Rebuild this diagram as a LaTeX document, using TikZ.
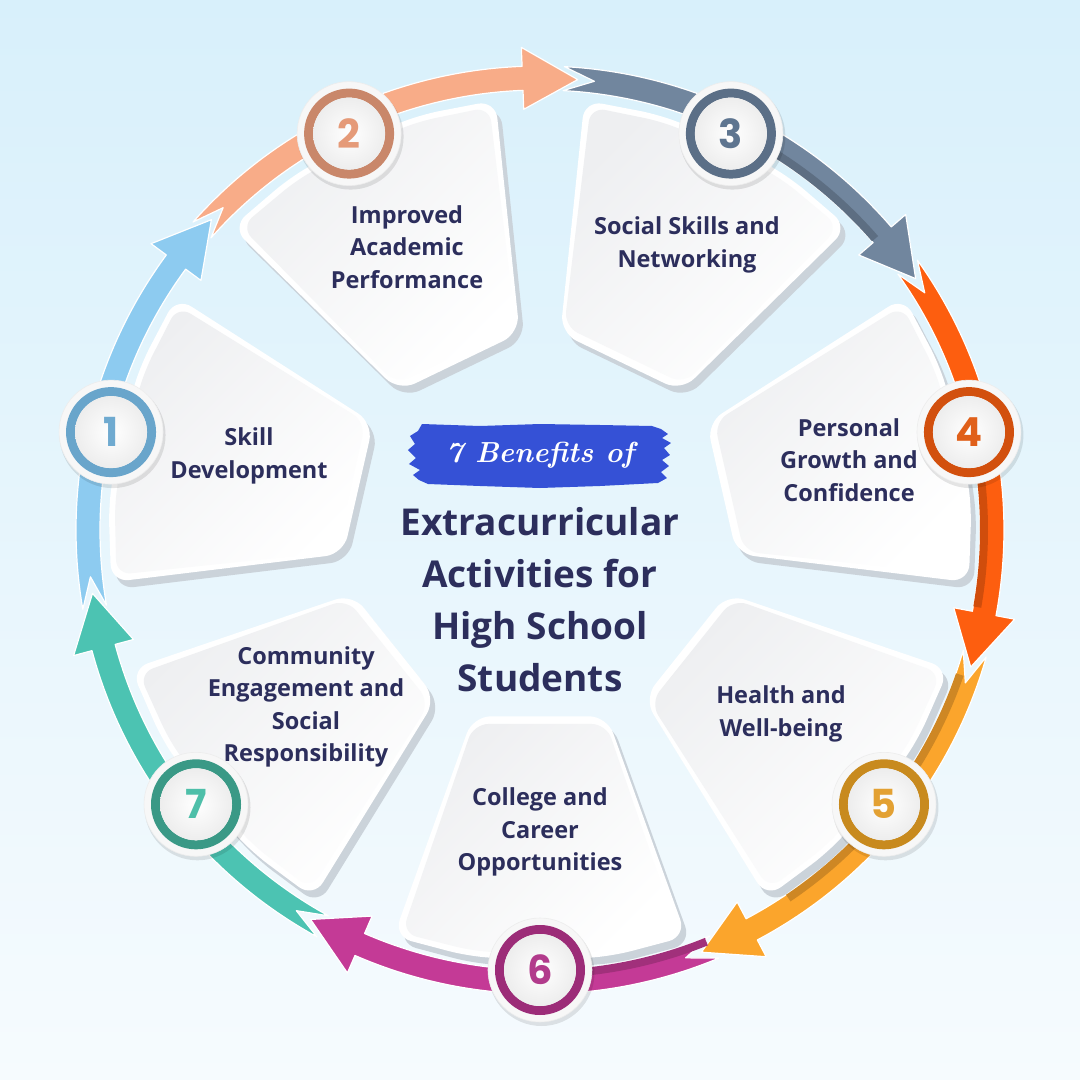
\documentclass[tikz,border=0pt]{standalone}
\usepackage{fontspec}
\newfontfamily\lbl{Open Sans}
\newfontfamily\digitfont{Poppins}
\definecolor{bgtop}{HTML}{D8F0FB}
\definecolor{bgbot}{HTML}{F6FBFE}
\definecolor{navy}{HTML}{2C2E5C}
\definecolor{brush}{HTML}{3551D6}
\definecolor{cardside}{HTML}{CBD3DA}
\definecolor{cardtop}{HTML}{EEEFF1}
\definecolor{arA}{HTML}{8DCBF0}
\definecolor{arB}{HTML}{F8AC88}
\definecolor{arC}{HTML}{71869E}
\definecolor{arD}{HTML}{FD5E0F}
\definecolor{arE}{HTML}{FBA52C}
\definecolor{arF}{HTML}{C43A96}
\definecolor{arG}{HTML}{4CC3B2}
\definecolor{rgA}{HTML}{69A5CB}
\definecolor{rgB}{HTML}{C9876A}
\definecolor{rgC}{HTML}{5B6F87}
\definecolor{rgD}{HTML}{D2500E}
\definecolor{rgE}{HTML}{C88A1E}
\definecolor{rgF}{HTML}{9C2C78}
\definecolor{rgG}{HTML}{3A9986}
\definecolor{dgA}{HTML}{6FAAD0}
\definecolor{dgB}{HTML}{E59A78}
\definecolor{dgC}{HTML}{5E7590}
\definecolor{dgD}{HTML}{E0601A}
\definecolor{dgE}{HTML}{E3A133}
\definecolor{dgF}{HTML}{B23B8C}
\definecolor{dgG}{HTML}{4EBFA9}
\def\Ri{440}\def\Ro{464}\def\Rm{452}\def\Rhi{421}\def\Rho{483}
\newcommand\ringarrow[2]{%
  \pgfmathsetmacro\ta{#1+22.7}%
  \pgfmathsetmacro\tb{#1-23.5}%
  \pgfmathsetmacro\tc{#1-30.5}%
  \pgfmathsetmacro\tn{#1+18.8}%
  \filldraw[fill=#2, draw=white, line width=1.2pt, line join=round]
    (\ta:\Ro pt) arc[start angle=\ta, end angle=\tb, radius=\Ro pt]
    -- (\tb:\Rho pt) -- (\tc:\Rm pt) -- (\tb:\Rhi pt) -- (\tb:\Ri pt)
    arc[start angle=\tb, end angle=\ta, radius=\Ri pt]
    -- (\tn:\Rm pt) -- cycle;
}
\newcommand\ringshade[3]{% darker stripe on the inner edge of the band, from angle #1 to #2
  \fill[#3!82!black] (#1:\Ri pt) arc[start angle=#1, end angle=#2, radius=\Ri pt]
    -- (#2:448pt) arc[start angle=#2, end angle=#1, radius=448pt] -- cycle;
}
\newcommand\cardpath[4]{% angle, half span, outer r, inner r
  (#1+#2:#3pt) -- (#1+#2/2:#3pt) -- (#1:#3pt) -- (#1-#2/2:#3pt) -- (#1-#2:#3pt)
  -- (#1-#2:#4pt) -- (#1+#2:#4pt) -- cycle
}
\newcommand\card[1]{%
  \fill[cardside, shift={(5pt,-7pt)}, rounded corners=18pt] \cardpath{#1}{19.8}{432}{198};
  \fill[white, rounded corners=18pt] \cardpath{#1}{19.8}{432}{198};
  \shade[top color=cardtop, bottom color=white, shading angle=45, rounded corners=15pt] \cardpath{#1}{18.9}{426}{205};
}
\newcommand\numcircle[5]{% name, angle, ring, digit, digit colour
  \fill[black, opacity=0.10, shift={(1.5pt,-3pt)}] (#2:440pt) circle[radius=53pt];
  \node[circle, minimum size=104pt, inner sep=0pt, fill=white!97!black, draw=black!7, line width=0.6pt] (#1) at (#2:440pt) {};
  \draw[#3, line width=9pt] (#1.center) circle[radius=40.5pt];
  \shade[inner color=white, outer color=black!7] (#1.center) circle[radius=36pt];
  \node[font=\digitfont\bfseries\fontsize{40}{40}\selectfont, text=#5] (#1n) at (#1.center) {#4};
}
\tikzset{
  lbltext/.style={font=\lbl\bfseries\fontsize{23.5}{32.5}\selectfont, text=navy, align=center, inner sep=0pt},
}
\begin{document}
\begin{tikzpicture}[x=1pt,y=1pt]
\useasboundingbox (-540,-550) rectangle (540,530);
\shade[top color=bgtop, bottom color=bgbot] (-540,-550) rectangle (540,530);
% ring arrows
\ringarrow{167.143}{arA}
\ringarrow{115.714}{arB}
\ringarrow{64.286}{arC}
\ringarrow{12.857}{arD}
\ringarrow{-38.571}{arE}
\ringarrow{-90}{arF}
\ringarrow{-141.429}{arG}
\ringshade{64}{41}{arC}
\ringshade{11}{-10}{arD}
\ringshade{-19}{-56}{arE}
\ringshade{-68}{-88}{arF}
% cards
\card{167.143}
\card{115.714}
\card{64.286}
\card{12.857}
\card{-38.571}
\card{-90}
\card{-141.429}
% card texts
\node[lbltext] (t1) at (-291,74) {Skill\\Development};
\node[lbltext] (t2) at (-133,283) {Improved\\Academic\\Performance};
\node[lbltext] (t3) at (147,285) {Social Skills and\\Networking};
\node[lbltext] (t4) at (309,70) {Personal\\Growth and\\Confidence};
\node[lbltext] (t5) at (241,-184) {Health and\\Well-being};
\node[lbltext] (t6) at (0,-302) {College and\\Career\\Opportunities};
\node[lbltext] (t7) at (-234,-177) {Community\\Engagement and\\Social\\Responsibility};
% number circles
\numcircle{c1}{167.143}{rgA}{1}{dgA}
\numcircle{c2}{115.714}{rgB}{2}{dgB}
\numcircle{c3}{64.286}{rgC}{3}{dgC}
\numcircle{c4}{12.857}{rgD}{4}{dgD}
\numcircle{c5}{-38.571}{rgE}{5}{dgE}
\numcircle{c6}{-90}{rgF}{6}{dgF}
\numcircle{c7}{-141.429}{rgG}{7}{dgG}
% brush banner
\fill[brush] (-118,106) -- (-60,104) -- (0,106) -- (60,105) -- (112,104) -- (121,101) -- (128,96) -- (122,92) -- (131,87) -- (124,82) -- (130,75) -- (122,70) -- (129,64) -- (121,58) -- (127,52) -- (118,47) -- (60,44) -- (0,42) -- (-60,44) -- (-112,46) -- (-121,50) -- (-127,55) -- (-120,60) -- (-131,66) -- (-124,72) -- (-132,80) -- (-125,86) -- (-130,94) -- (-122,99) -- cycle;
\node[font=\bfseries\itshape\fontsize{29}{29}\selectfont, text=white] (sub) at (0,75) {7 Benefits of};
\node[font=\lbl\bfseries\fontsize{37}{52}\selectfont, text=navy, align=center, inner sep=0pt] (title) at (0,-70) {Extracurricular\\Activities for\\High School\\Students};
\end{tikzpicture}
\end{document}
